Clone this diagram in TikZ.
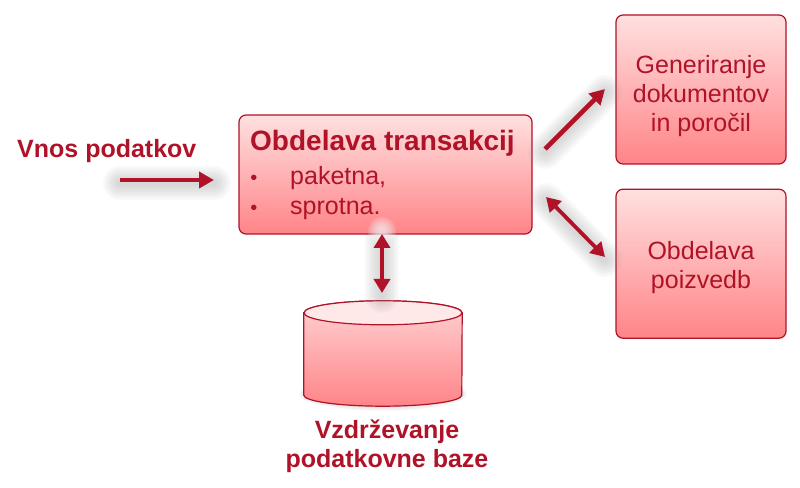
\documentclass[tikz,border=0pt]{standalone}
\usepackage{fontspec}
\setmainfont{Liberation Sans}
\usetikzlibrary{arrows.meta, positioning}

\definecolor{bordo}{HTML}{B01228}
\definecolor{rozatop}{HTML}{FFE0E0}
\definecolor{rozabot}{HTML}{FF8488}

\tikzset{
	proces/.style={draw=bordo, line width=1.2pt, rounded corners=7pt, top color=rozatop, bottom color=rozabot,
		text=bordo, inner sep=0pt, align=center, font=\fontsize{25}{29}\selectfont},
	naslov/.style={text=bordo, align=center, inner sep=0pt, font=\bfseries\fontsize{25}{29}\selectfont},
	alineja/.style={anchor=base west, text=bordo, inner sep=0pt, font=\fontsize{25}{29}\selectfont},
	pika/.style={anchor=base east, text=bordo, inner sep=0pt, yshift=5pt, font=\fontsize{20}{20}\selectfont},
	puscica/.style={bordo, line width=4.6pt, -{Triangle[length=15pt,width=16pt]}},
	dvopuscica/.style={bordo, line width=3.8pt, {Triangle[length=14pt,width=16pt]}-{Triangle[length=14pt,width=16pt]}}
}

\newcommand{\senca}[2]{
	\foreach \w in {34,30,...,6}
		\draw[black!45!white, opacity=0.05, line width=\w pt, line cap=round, transform canvas={yshift=-3pt}] (#1) -- (#2);
}
\newcommand{\niz}[2]{\raisebox{#1}[0pt][0pt]{\begin{tabular}{@{}c@{}}#2\end{tabular}}}

\begin{document}
\begin{tikzpicture}[x=1pt, y=1pt]
	\useasboundingbox (0,0) rectangle (800,487);

	% senca pod valjem
	\foreach \w in {1,...,6}
		\fill[black, opacity=0.025] (383,93) ellipse[x radius=78+\w, y radius=11+\w];

	\node[proces, minimum width=293pt, minimum height=119pt] (txn) at (385.5,312.5) {};
	\node[proces, minimum width=170pt, minimum height=149pt] (gendoc) at (701,397.5) {\niz{-13.5pt}{Generiranje\\dokumentov\\in poročil}};
	\node[proces, minimum width=170pt, minimum height=149pt, below=24pt of gendoc] (poizv) {\niz{-10.5pt}{Obdelava\\poizvedb}};
	\node[minimum width=158pt, minimum height=105pt, inner sep=0pt] (baza) at (383,133.5) {};

	% valj
	\draw[bordo, line width=1.2pt, top color=rozatop!85!rozabot, bottom color=rozabot]
		(baza.north west) ++(0,-12) -- ([yshift=11pt]baza.south west)
		arc[x radius=79, y radius=11, start angle=180, end angle=360] -- ([yshift=-12pt]baza.north east)
		arc[x radius=79, y radius=12, start angle=0, end angle=180] -- cycle;
	\draw[bordo, line width=1.2pt, fill=rozatop!75!white] ([yshift=-12pt]baza.north) ellipse[x radius=79, y radius=12];

	% besedila
	\node[naslov, anchor=base west, font=\bfseries\fontsize{28}{32}\selectfont] (txnnaslov) at (250,336) {Obdelava transakcij};
	\node[alineja] (paketna) at (290,302) {paketna,};
	\node[alineja] (sprotna) at (290,272.5) {sprotna.};
	\node[pika, left=32.5pt of paketna.base west] (pika1) {•};
	\node[pika, left=32.5pt of sprotna.base west] (pika2) {•};
	\node[naslov, anchor=base west] (vnos) at (17,329) {Vnos podatkov};
	\node[naslov, below=13pt of baza, xshift=4pt] (bazanaslov) {Vzdrževanje\\podatkovne baze};

	% konci puscic
	\coordinate (vnosA) at (120,307);
	\coordinate (vnosB) at (214,307);
	\coordinate (genA) at (545,338);
	\coordinate (genB) at (605,398);
	\coordinate (pozA) at (546,290);
	\coordinate (pozB) at (605,230);
	\coordinate (bazaA) at (382,253);
	\coordinate (bazaB) at (382,194);

	\senca{vnosA}{vnosB}
	\senca{genA}{genB}
	\senca{pozA}{pozB}
	\senca{bazaA}{bazaB}

	% bel sij ob spodnjem robu
	\foreach \r in {14,12,...,4}
		\fill[white, opacity=0.16] (bazaA) ++(0,3) circle[radius=\r];

	\draw[puscica] (vnosA) -- (vnosB);
	\draw[puscica] (genA) -- (genB);
	\draw[dvopuscica] (pozA) -- (pozB);
	\draw[dvopuscica] (bazaA) -- (bazaB);
\end{tikzpicture}
\end{document}
